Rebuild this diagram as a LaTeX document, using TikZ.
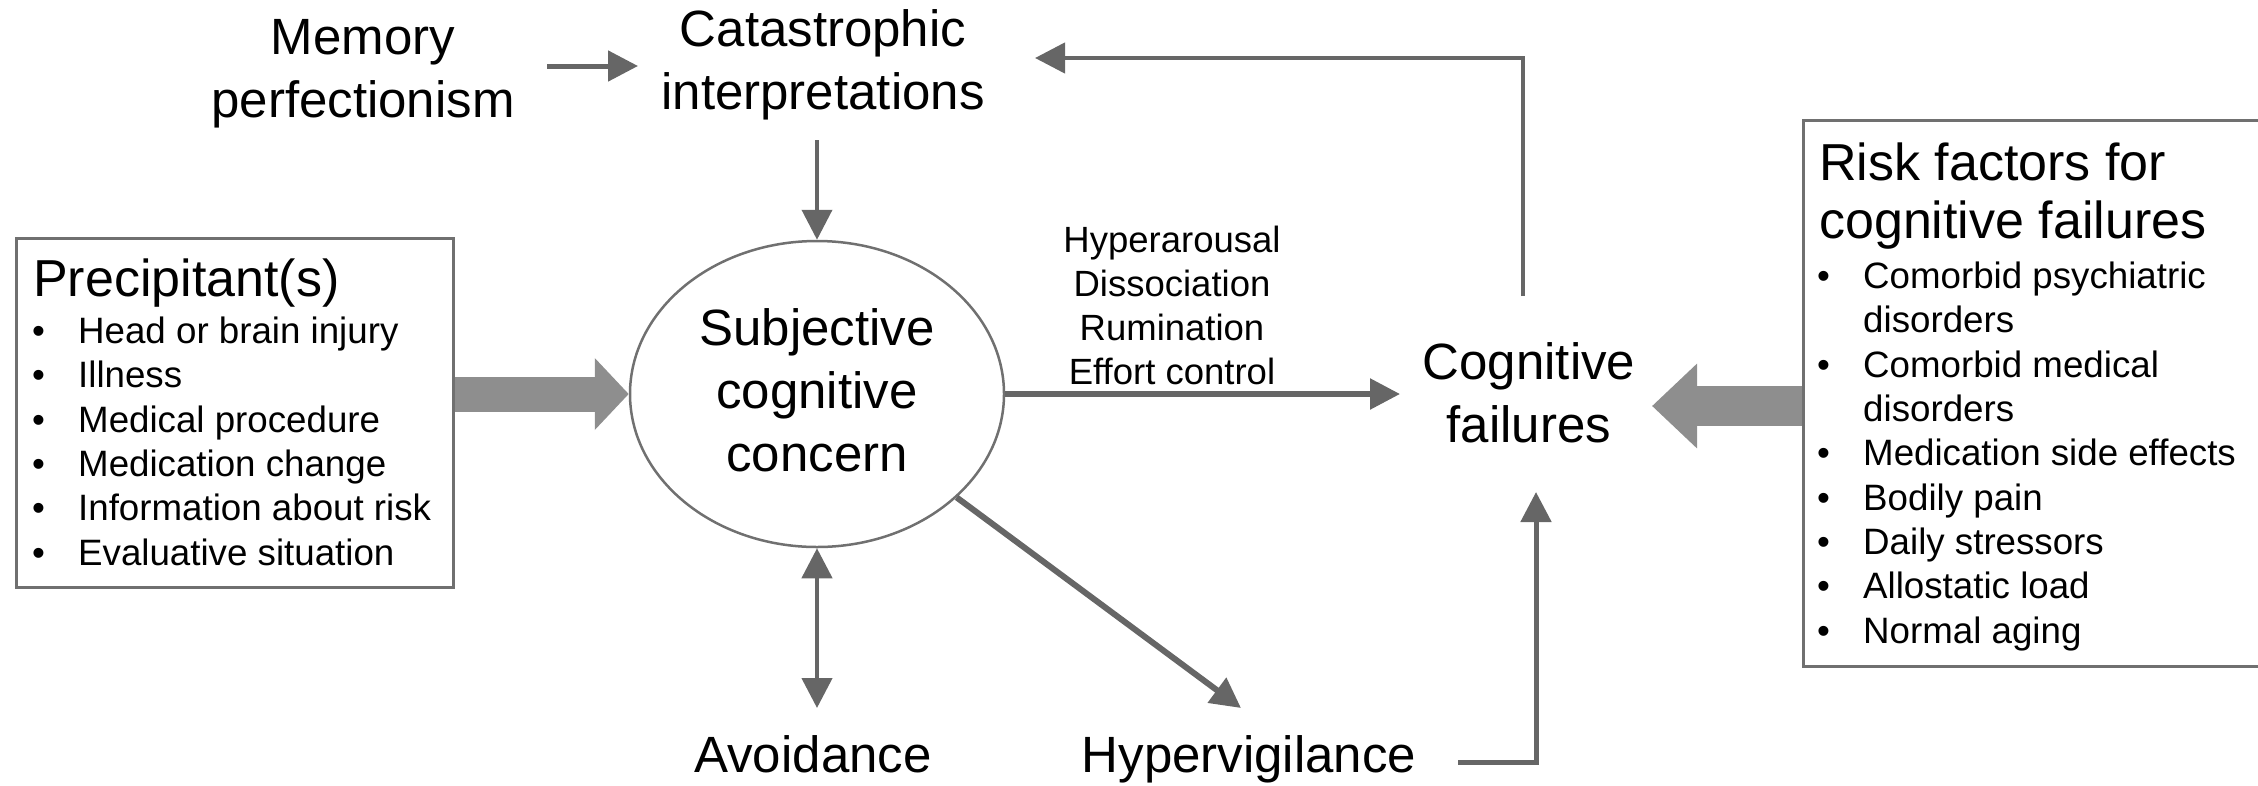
\documentclass[tikz,border=0pt]{standalone}
\usepackage{fontspec}
\setmainfont{Liberation Sans}
\usetikzlibrary{arrows.meta,shapes.geometric,calc}
\definecolor{framegray}{HTML}{707070}
\definecolor{arrowgray}{HTML}{666666}
\definecolor{biggray}{HTML}{8E8E8E}
\begin{document}
\begin{tikzpicture}[x=1pt,y=-1pt,
  lbl/.style={inner sep=0pt,anchor=base,align=center,font=\fontsize{51}{63}\selectfont},
  small/.style={inner sep=0pt,anchor=base,align=center,font=\fontsize{36.5}{44}\selectfont},
  listtxt/.style={inner sep=0pt,anchor=base west,align=left,font=\fontsize{36.7}{44.3}\selectfont},
  boxttl/.style={inner sep=0pt,anchor=base west,align=left,font=\fontsize{52}{58}\selectfont},
  frame/.style={draw=framegray,line width=3pt,rectangle,inner sep=0pt},
  link/.style={draw=arrowgray,line width=5pt,-{Triangle[length=30pt,width=30pt]}},
  twolink/.style={draw=arrowgray,line width=4.5pt,{Triangle[length=30pt,width=30pt]}-{Triangle[length=30pt,width=30pt]}},
  bigarrow/.style={draw=biggray,line width=36pt,-{Triangle[length=36pt,width=72pt]}},
]
\useasboundingbox (0,0) rectangle (2258,785);

% concept labels (multi-line nodes are placed by the baseline of their last line)
\node[lbl] (mem) at (363,117) {Memory\\perfectionism};
\node[lbl] (cat) at (823,109) {Catastrophic\\interpretations};
\node[ellipse,draw=framegray,line width=2.5pt,minimum width=374pt,minimum height=306pt,inner sep=0pt] (scc) at (817,394) {};
\node[lbl] (scctext) at (817,471) {Subjective\\cognitive\\concern};
\node[lbl] (cogf) at (1529,442) {Cognitive\\failures};
\node[lbl] (avo) at (813,772) {Avoidance};
\node[lbl] (hyv) at (1249,772) {Hypervigilance};
\node[small] (mech) at (1172,384) {Hyperarousal\\Dissociation\\Rumination\\Effort control};

% precipitants box
\node[frame,minimum width=437pt,minimum height=349pt] (prec) at (234.5,412.5) {};
\node[boxttl] (prect) at (33,296) {Precipitant(s)};
\node[listtxt] (precl) at (32,565) {%
\makebox[46pt][l]{•}Head or brain injury\\
\makebox[46pt][l]{•}Illness\\
\makebox[46pt][l]{•}Medical procedure\\
\makebox[46pt][l]{•}Medication change\\
\makebox[46pt][l]{•}Information about risk\\
\makebox[46pt][l]{•}Evaluative situation};

% risk factors box
\node[frame,minimum width=470pt,minimum height=546pt] (risk) at (2038,393) {};
\node[boxttl] (riskt) at (1819,238) {Risk factors for\\cognitive failures};
\node[listtxt] (riskl) at (1817,643) {%
\makebox[46pt][l]{•}Comorbid psychiatric\\
\makebox[46pt][l]{}disorders\\
\makebox[46pt][l]{•}Comorbid medical\\
\makebox[46pt][l]{}disorders\\
\makebox[46pt][l]{•}Medication side effects\\
\makebox[46pt][l]{•}Bodily pain\\
\makebox[46pt][l]{•}Daily stressors\\
\makebox[46pt][l]{•}Allostatic load\\
\makebox[46pt][l]{•}Normal aging};

% connector end points
\coordinate (memout) at (547,66);
\coordinate (catin) at (638,66);
\coordinate (catout) at (817,140);
\coordinate (cogin) at (1400,394);
\coordinate (cogtop) at (1523,296);
\coordinate (catback) at (1035,58);
\coordinate (hvout) at (1458,762);
\coordinate (cogbot) at (1536,492);
\coordinate (avotop) at (817,708);
\coordinate (hvtip) at (1241,708);
\coordinate (cogright) at (1652,406);

% connectors
\draw[link] (memout) -- (catin);
\draw[link,line width=4pt] (catout) -- (scc.north);
\draw[link,line width=5.5pt] (scc.east) -- (cogin);
\draw[link,line width=4.5pt] (cogtop) |- (catback);
\draw[link] (hvout) -| (cogbot);
\draw[twolink] (scc.south) -- (avotop);
\draw[link,line width=6pt] (scc) -- (hvtip);

% broad arrows
\draw[bigarrow,line width=35pt,-{Triangle[length=34pt,width=70pt]}] (prec.east |- scc.west) -- (scc.west);
\draw[bigarrow,line width=40pt,-{Triangle[length=45pt,width=82pt]}] (risk.west |- cogright) -- (cogright);
\end{tikzpicture}
\end{document}
